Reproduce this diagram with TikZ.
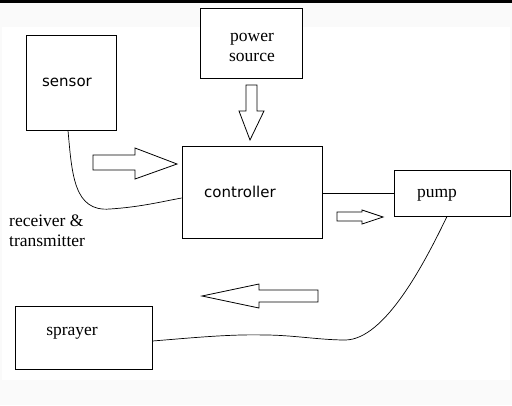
\documentclass[tikz,border=0pt]{standalone}
\usepackage{fontspec}
\setmainfont{Liberation Serif}
\newfontfamily\sansfont{DejaVu Sans}
\tikzset{
	box/.style={draw, line width=0.9pt, inner sep=0pt},
	blockarrow/.style={draw, line width=0.8pt, fill=white, line join=miter},
	wire/.style={draw, line width=0.7pt},
	serif/.style={font=\fontsize{17.5}{20}\selectfont, align=center, inner sep=0pt},
	sans/.style={font=\sansfont\fontsize{15}{18}\selectfont, inner sep=0pt}
}
\begin{document}
\begin{tikzpicture}[x=1pt,y=-1pt]
	\useasboundingbox (0,0) rectangle (512,405);
	% background
	\fill[gray!4] (0,0) rectangle (512,405);
	\fill[white] (2,27) rectangle (510,380);
	\fill[black] (0,0) rectangle (512,3);

	\node[box, minimum width=90pt, minimum height=95pt] (sensor) at (71,82.5) {};
	\node[sans] at (67,82) {sensor};
	\node[box, fill=white, minimum width=102pt, minimum height=70pt] (power) at (251,43) {};
	\node[serif] at (252,47) {power\\source};
	\node[box, minimum width=140pt, minimum height=92pt] (controller) at (252,192) {};
	\node[sans] at (240,192) {controller};
	\node[box, minimum width=116pt, minimum height=46pt] (pump) at (452,193) {};
	\node[serif] at (437,195) {pump};
	\node[box, minimum width=137pt, minimum height=63pt] (sprayer) at (83.5,337.5) {};
	\node[serif] at (72,333) {sprayer};
	\node[serif, anchor=west, align=left] (radio) at (9,231) {receiver \&\\transmitter};

	% connections
	\draw[wire] ([xshift=-3pt]sensor.south) .. controls (72,175) and (74,212) .. (110,209)
		.. controls (140,207) and (160,202) .. ([yshift=-6pt]controller.west);
	\draw[wire] (controller.east |- pump.west) -- (pump.west);
	\draw[wire] ([xshift=-5pt]pump.south) .. controls (425,262) and (385,340) .. (345,340)
		.. controls (320,340) and (292,335) .. (265,335)
		.. controls (230,334) and (190,338) .. ([yshift=-3.5pt]sprayer.east);

	% block arrows
	\draw[blockarrow] (246,85) -- (257,85) -- (257,111) -- (264,111) -- (250,140) -- (239,111) -- (246,111) -- cycle;
	\draw[blockarrow] (93,155) -- (135,155) -- (135,148) -- (177,164) -- (135,179) -- (135,170) -- (93,170) -- cycle;
	\draw[blockarrow] (337,212) -- (362,212) -- (362,210) -- (383,217) -- (362,224) -- (362,221) -- (337,221) -- cycle;
	\draw[blockarrow] (318,290) -- (259,290) -- (259,284) -- (202,296) -- (259,308) -- (259,302) -- (318,302) -- cycle;
\end{tikzpicture}
\end{document}
